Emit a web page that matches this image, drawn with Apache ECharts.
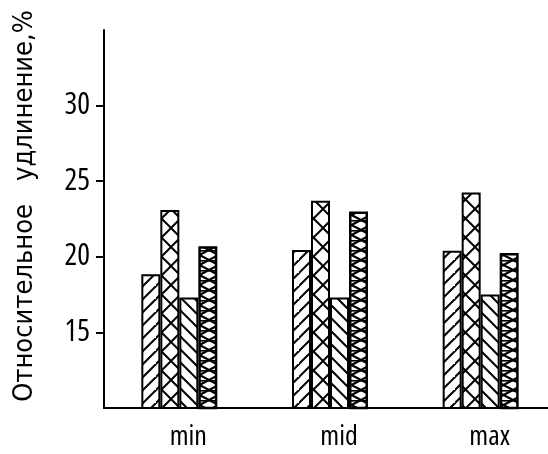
<!DOCTYPE html>
<html><head><meta charset="utf-8">
<script src="https://cdn.jsdelivr.net/npm/echarts@6/dist/echarts.min.js"></script>
<style>html,body{margin:0;padding:0;background:#fff}#c{width:548px;height:454px}</style>
</head><body><div id="c"></div>
<script>
const categories = ['min', 'mid', 'max'];
const series1 = [18.85, 20.45, 20.4];
const series2 = [23.1, 23.7, 24.25];
const series3 = [17.3, 17.3, 17.5];
const series4 = [20.7, 23.0, 20.25];
const yTicks = [15, 20, 25, 30];

const NARROW = '"Open Sans", "DejaVu Sans Condensed", sans-serif';
const TITLEFONT = '"DejaVu Sans Condensed", sans-serif';

function makePattern(kind) {
  const c = document.createElement('canvas');
  let w, h;
  if (kind === 'slash' || kind === 'back') { w = 13; h = 13; }
  else if (kind === 'x') { w = 19; h = 19; }
  else { w = 19; h = 10; }
  c.width = w; c.height = h;
  const g = c.getContext('2d');
  g.fillStyle = '#fff'; g.fillRect(0, 0, w, h);
  g.strokeStyle = '#000'; g.lineWidth = 2; g.lineCap = 'square';
  function line(x1, y1, x2, y2) { g.beginPath(); g.moveTo(x1, y1); g.lineTo(x2, y2); g.stroke(); }
  if (kind === 'slash') {
    line(-1, h + 1, w + 1, -1); line(-w - 1, h + 1, 1, -1); line(w - 1, 2 * h + 1, 2 * w + 1, h - 1);
  } else if (kind === 'back') {
    line(-1, -1, w + 1, h + 1); line(-w - 1, -1, 1, h + 1); line(w - 1, -1, 2 * w + 1, h + 1);
  } else if (kind === 'x') {
    line(-1, -1, w + 1, h + 1); line(-1, h + 1, w + 1, -1);
  } else {
    g.lineWidth = 2.2;
    line(0, 0, w, h); line(0, h, w, 0);
    line(0, 0.5, w, 0.5);
  }
  return { image: c, repeat: 'repeat' };
}

const chart = echarts.init(document.getElementById('c'), null, { renderer: 'canvas' });
const border = { borderColor: '#000', borderWidth: 2 };
const barBase = { type: 'bar', barWidth: 19, barGap: '0%', silent: true };
chart.setOption({
  animation: false,
  grid: { left: 104, right: -8, top: 30, bottom: 46, containLabel: false, outerBoundsMode: 'none' },
  xAxis: {
    type: 'category', data: categories,
    axisLine: { lineStyle: { color: '#000', width: 2 } },
    axisTick: { show: false },
    axisLabel: { color: '#000', fontFamily: NARROW, fontStyle: 'condensed', fontSize: 28, margin: 15, padding: [0, 0, 0, 18] }
  },
  yAxis: {
    type: 'value', min: 10, max: 35, interval: 5,
    name: 'Относительное   удлинение,%', nameLocation: 'middle', nameGap: 66, nameRotate: 90, nameMoveOverlap: false,
    nameTextStyle: { color: '#000', fontFamily: TITLEFONT, fontSize: 27, padding: [0, 0, 0, 26] },
    splitLine: { show: false },
    axisLine: { show: true, lineStyle: { color: '#000', width: 2 } },
    axisTick: { show: true, length: 8, lineStyle: { color: '#000', width: 2 }, customValues: yTicks },
    axisLabel: { color: '#000', fontFamily: NARROW, fontStyle: 'condensed', fontSize: 30, margin: 14, customValues: yTicks }
  },
  series: [
    Object.assign({}, barBase, { data: series1, itemStyle: Object.assign({ color: makePattern('slash') }, border) }),
    Object.assign({}, barBase, { data: series2, itemStyle: Object.assign({ color: makePattern('x') }, border) }),
    Object.assign({}, barBase, { data: series3, itemStyle: Object.assign({ color: makePattern('back') }, border) }),
    Object.assign({}, barBase, { data: series4, itemStyle: Object.assign({ color: makePattern('xh') }, border, { borderWidth: 2.5 }) })
  ]
});
</script></body></html>
